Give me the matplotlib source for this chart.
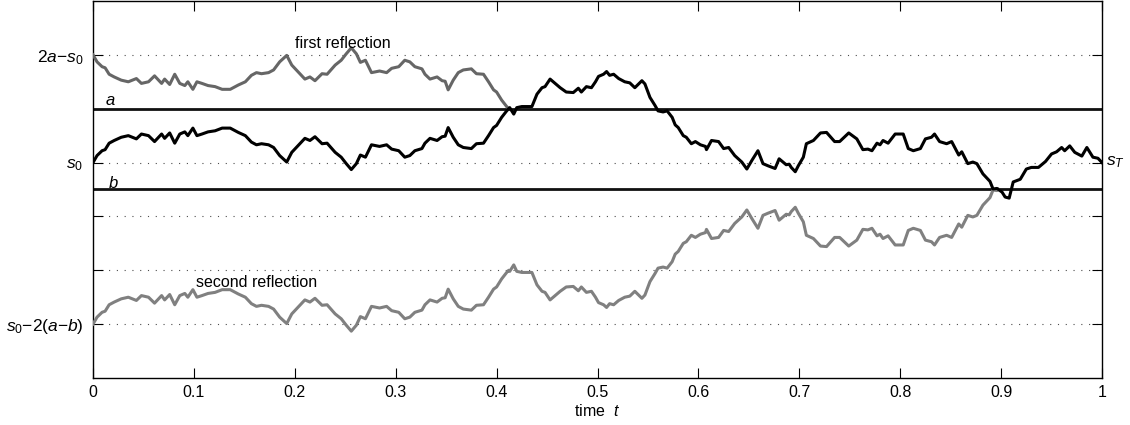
import matplotlib
matplotlib.use("Agg")
import matplotlib.pyplot as plt
import numpy as np

plt.rcParams['font.family'] = ['Liberation Sans', 'DejaVu Sans']
plt.rcParams['mathtext.fontset'] = 'custom'
plt.rcParams['mathtext.rm'] = 'Liberation Sans'
plt.rcParams['mathtext.it'] = 'Liberation Sans:italic'
plt.rcParams['mathtext.default'] = 'it'

# barriers and start value
a_level = 1.0
b_level = -0.5
s_start = 0.0

t_vals = [0.000, 0.004, 0.009, 0.012, 0.016, 0.021, 0.028, 0.035, 0.043, 0.048,
          0.055, 0.061, 0.068, 0.071, 0.076, 0.081, 0.086, 0.091, 0.094, 0.099,
          0.103, 0.108, 0.114, 0.121, 0.128, 0.136, 0.144, 0.151, 0.157, 0.162,
          0.167, 0.174, 0.179, 0.185, 0.192, 0.197, 0.203, 0.210, 0.215, 0.220,
          0.227, 0.232, 0.240, 0.246, 0.251, 0.256, 0.261, 0.265, 0.270, 0.276,
          0.284, 0.291, 0.296, 0.303, 0.309, 0.314, 0.319, 0.326, 0.329, 0.334,
          0.341, 0.346, 0.349, 0.352, 0.357, 0.362, 0.367, 0.375, 0.380, 0.387,
          0.392, 0.397, 0.400, 0.405, 0.410, 0.413, 0.417, 0.420, 0.425, 0.435,
          0.440, 0.445, 0.448, 0.453, 0.458, 0.463, 0.469, 0.476, 0.481, 0.484,
          0.489, 0.494, 0.498, 0.501, 0.506, 0.509, 0.512, 0.516, 0.521, 0.527,
          0.532, 0.537, 0.544, 0.547, 0.552, 0.557, 0.560, 0.565, 0.569, 0.574,
          0.577, 0.580, 0.585, 0.588, 0.593, 0.597, 0.602, 0.607, 0.608, 0.613,
          0.620, 0.625, 0.630, 0.636, 0.643, 0.648, 0.653, 0.659, 0.664, 0.669,
          0.676, 0.680, 0.687, 0.690, 0.692, 0.696, 0.699, 0.704, 0.707, 0.714,
          0.721, 0.727, 0.735, 0.740, 0.749, 0.757, 0.763, 0.768, 0.772, 0.777,
          0.780, 0.783, 0.788, 0.795, 0.803, 0.808, 0.813, 0.820, 0.825, 0.831,
          0.834, 0.839, 0.846, 0.851, 0.858, 0.861, 0.867, 0.872, 0.876, 0.882,
          0.889, 0.892, 0.896, 0.901, 0.904, 0.908, 0.912, 0.919, 0.925, 0.930,
          0.937, 0.944, 0.950, 0.955, 0.960, 0.963, 0.968, 0.973, 0.980, 0.985,
          0.991, 0.996, 1.000]
s_vals = [0.00, 0.13, 0.22, 0.24, 0.36, 0.41, 0.47, 0.50, 0.44, 0.53,
          0.50, 0.39, 0.53, 0.45, 0.55, 0.36, 0.53, 0.57, 0.50, 0.64,
          0.50, 0.53, 0.57, 0.59, 0.64, 0.64, 0.56, 0.50, 0.38, 0.33,
          0.35, 0.33, 0.28, 0.13, 0.01, 0.19, 0.31, 0.45, 0.41, 0.48,
          0.35, 0.36, 0.19, 0.10, -0.02, -0.13, -0.02, 0.14, 0.10, 0.33,
          0.30, 0.33, 0.25, 0.22, 0.10, 0.13, 0.22, 0.26, 0.36, 0.45,
          0.41, 0.48, 0.49, 0.65, 0.47, 0.33, 0.28, 0.26, 0.35, 0.36,
          0.50, 0.65, 0.69, 0.84, 0.96, 1.02, 0.90, 1.02, 1.04, 1.04,
          1.27, 1.39, 1.41, 1.55, 1.47, 1.39, 1.31, 1.30, 1.38, 1.31,
          1.41, 1.39, 1.50, 1.60, 1.64, 1.69, 1.62, 1.64, 1.56, 1.50,
          1.48, 1.39, 1.52, 1.46, 1.21, 1.06, 0.96, 0.94, 0.96, 0.84,
          0.70, 0.65, 0.50, 0.47, 0.35, 0.39, 0.33, 0.30, 0.24, 0.41,
          0.39, 0.26, 0.28, 0.13, 0.01, -0.12, 0.04, 0.22, -0.02, -0.06,
          -0.11, 0.07, -0.04, -0.03, -0.09, -0.17, -0.06, 0.10, 0.35, 0.41,
          0.55, 0.56, 0.39, 0.39, 0.55, 0.44, 0.24, 0.25, 0.22, 0.36,
          0.33, 0.41, 0.36, 0.53, 0.53, 0.26, 0.22, 0.26, 0.44, 0.47,
          0.53, 0.39, 0.35, 0.39, 0.14, 0.20, -0.02, 0.01, -0.02, -0.21,
          -0.35, -0.49, -0.48, -0.55, -0.64, -0.66, -0.36, -0.31, -0.12, -0.09,
          -0.09, 0.02, 0.16, 0.20, 0.28, 0.22, 0.31, 0.19, 0.12, 0.28,
          0.10, 0.08, 0.00]

ytick_vals = [-3, -2, -1, 0, 1, 2]
ytick_labels = [r'$s_0{-}2(a{-}b)$', '', '', r'$s_0$', '', r'$2a{-}s_0$']
xtick_vals = np.arange(0, 1.01, 0.1)
xtick_labels = ['0', '0.1', '0.2', '0.3', '0.4', '0.5', '0.6', '0.7', '0.8', '0.9', '1']


def first_hit(t, s, level, upward):
    """index of first sample past the level and the interpolated crossing time"""
    hit = s >= level if upward else s <= level
    i = int(np.argmax(hit))
    t0, t1, s0, s1 = t[i - 1], t[i], s[i - 1], s[i]
    return i, t0 + (level - s0) * (t1 - t0) / (s1 - s0)


t = np.array(t_vals)
s = np.array(s_vals)

# put the barrier crossings into the path
ia, tau_a = first_hit(t, s, a_level, True)
t = np.insert(t, ia, tau_a)
s = np.insert(s, ia, a_level)
ib, tau_b = first_hit(t, s, b_level, False)
t = np.insert(t, ib, tau_b)
s = np.insert(s, ib, b_level)

# first reflection (about a) and second reflection (about b)
refl1 = np.where(t <= tau_a, 2 * a_level - s, s)
refl2 = 2 * b_level - refl1
m1 = t <= tau_a
m2 = t <= tau_b

fig = plt.figure(figsize=(11.3, 4.25), dpi=100)
ax = fig.add_axes([93 / 1130, 47 / 425, 1009 / 1130, 377 / 425])

ax.axhline(a_level, color='#111111', lw=2.0, zorder=2)
ax.axhline(b_level, color='#111111', lw=2.0, zorder=2)
ax.plot(t[m1], refl1[m1], color='0.4', lw=2.2, zorder=3)
ax.plot(t[m2], refl2[m2], color='0.5', lw=2.2, zorder=3)
ax.plot(t, s, color='black', lw=2.2, zorder=4)

ax.set_xlim(0, 1)
ax.set_ylim(-4, 3)
ax.set_xticks(xtick_vals)
ax.set_xticklabels(xtick_labels)
ax.set_yticks(ytick_vals)
ax.set_yticklabels(ytick_labels)
ax.tick_params(direction='in', length=7, width=0.8, top=True, right=True,
               labelsize=11.5)
ax.tick_params(axis='y', pad=7, labelsize=12.5)
ax.tick_params(axis='x', pad=5)
ax.grid(True, axis='y', color='0.3', lw=0.8, linestyle=(0, (1, 6)))
ax.set_axisbelow(True)
for sp in ax.spines.values():
    sp.set_linewidth(1.0)

ax.text(0.248, 2.22, 'first reflection', ha='center', va='center', fontsize=11.5)
ax.text(0.162, -2.22, 'second reflection', ha='center', va='center', fontsize=11.5)
ax.text(0.017, 1.15, '$a$', ha='center', va='center', fontsize=12)
ax.text(0.02, -0.38, '$b$', ha='center', va='center', fontsize=12)
ax.text(1.004, s[-1], '$s_T$', ha='left', va='center', fontsize=12.5, clip_on=False)
ax.set_xlabel(r'time  $t$', fontsize=11.5, labelpad=2)

fig.savefig('out.png', dpi=100)
